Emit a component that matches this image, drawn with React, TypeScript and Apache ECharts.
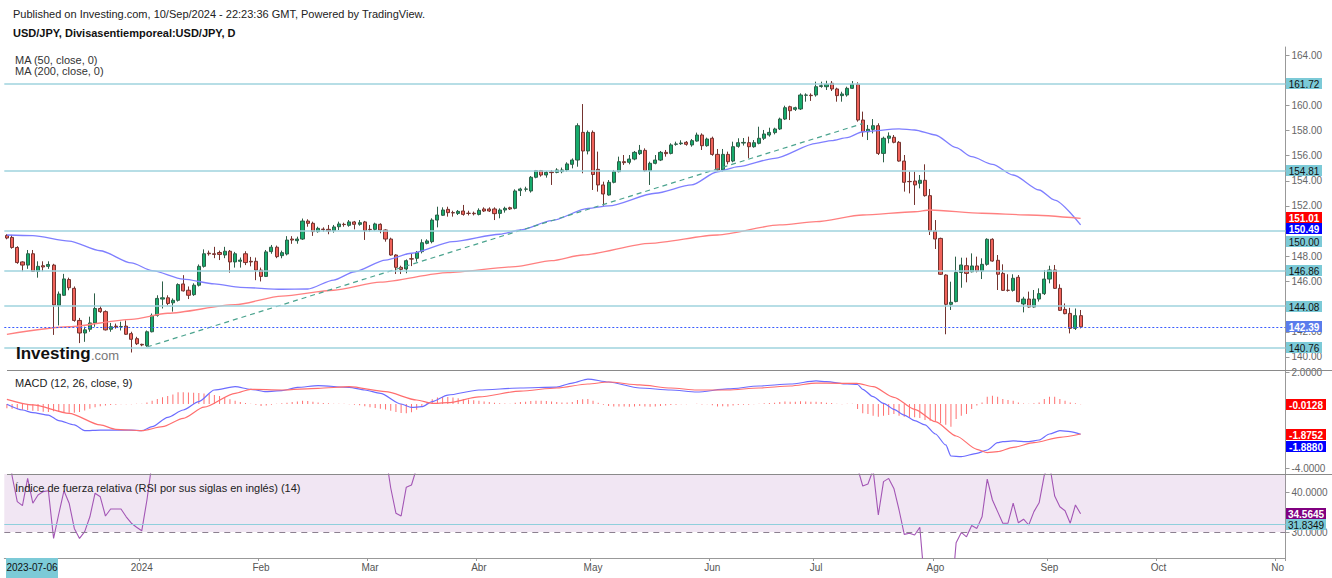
import React, { useEffect, useRef } from "react";
import * as echarts from "echarts";

const FONT = '"Liberation Sans", Arial, sans-serif';

// ---------- axis / category data ----------
const startDate = "2023-11-24";
const slotCount = 247;
const monthLabels = ["2024", "Feb", "Mar", "Abr", "May", "Jun", "Jul", "Ago", "Sep", "Oct", "No"];
const cursorDateLabel = "2023-07-06";
const priceTicks = [140, 142, 144, 146, 148, 150, 152, 154, 156, 158, 160, 162, 164];
const priceTickLabels = [140, 142, 146, 148, 152, 154, 156, 158, 160, 164];
const macdTicks = [2, -4];
const rsiTicks = [40, 30];

// ---------- price data [open, close, low, high] ----------
const ohlc: number[][] = [
  [149.65, 149.45, 149.35, 149.75], [149.5, 148.7, 148.6, 149.7], [148.7, 147.5, 147.4, 148.8], [147.55, 147.3, 146.8, 147.6], [147.3, 148.2, 147.0, 148.5],
  [148.2, 146.8, 146.75, 148.5], [146.8, 147.2, 146.3, 147.6], [147.25, 147.15, 146.8, 147.6], [147.2, 147.35, 147.0, 147.6], [147.3, 144.13, 141.75, 147.4],
  [144.1, 145.0, 142.5, 145.2], [144.9, 146.2, 144.85, 146.6], [146.15, 145.5, 145.3, 146.3], [145.45, 142.9, 142.8, 145.6], [142.9, 141.9, 141.1, 143.1],
  [141.9, 142.15, 141.2, 142.4], [142.2, 142.7, 142.0, 143.2], [142.7, 143.85, 142.4, 145.05], [143.85, 143.6, 143.5, 144.05], [143.6, 142.15, 142.1, 143.7],
  [142.2, 142.4, 142.0, 142.7], [142.45, 142.4, 142.25, 142.65], [142.4, 142.42, 142.1, 142.8], [142.45, 141.8, 141.75, 142.9], [141.85, 141.4, 140.35, 142.0],
  [141.45, 141.05, 140.95, 141.6], [141.0, 140.95, 140.85, 141.05], [140.9, 142.0, 140.8, 142.1], [142.0, 143.3, 141.95, 143.45], [143.3, 144.65, 143.2, 144.9],
  [144.6, 144.7, 143.85, 146.0], [144.7, 144.25, 144.1, 144.9], [144.3, 144.5, 143.6, 144.65], [144.5, 145.75, 144.4, 145.85], [145.8, 145.25, 145.2, 146.5],
  [145.3, 144.9, 144.6, 145.6], [144.95, 145.7, 144.85, 145.85], [145.7, 147.2, 145.6, 147.35], [147.2, 148.2, 147.1, 148.55], [148.25, 148.2, 148.05, 148.45],
  [148.2, 148.15, 147.85, 148.75], [148.3, 148.15, 147.7, 148.45], [148.1, 148.4, 147.85, 148.75], [148.4, 147.55, 146.7, 148.5], [147.55, 148.2, 147.1, 148.35],
  [147.6, 147.7, 147.1, 147.9], [148.2, 147.5, 147.3, 148.4], [147.6, 147.55, 147.2, 147.95], [147.6, 146.9, 146.1, 147.9], [146.9, 146.4, 146.0, 147.1],
  [146.4, 148.35, 146.35, 148.5], [148.37, 148.72, 148.2, 148.9], [148.72, 147.97, 147.85, 148.85], [148.05, 148.29, 147.84, 148.45], [148.18, 149.29, 148.07, 149.6],
  [149.37, 149.29, 148.99, 149.6], [149.24, 149.37, 149.0, 149.56], [149.37, 150.8, 149.3, 151.0], [150.8, 150.62, 150.35, 150.94], [150.62, 149.96, 149.62, 150.75],
  [149.96, 150.22, 149.88, 150.35], [150.16, 150.12, 149.96, 150.3], [150.14, 150.01, 149.75, 150.49], [150.04, 150.33, 149.88, 150.49], [150.35, 150.57, 150.09, 150.75],
  [150.54, 150.52, 150.35, 150.67], [150.46, 150.73, 150.35, 150.88], [150.73, 150.54, 150.14, 150.81], [150.54, 150.67, 150.43, 150.88], [150.73, 150.04, 149.3, 150.81],
  [150.14, 150.12, 149.96, 150.49], [150.14, 150.57, 150.04, 150.67], [150.54, 150.09, 149.83, 150.62], [150.09, 149.37, 149.16, 150.14], [149.37, 148.1, 148.05, 149.48],
  [148.1, 147.12, 146.59, 148.16], [147.12, 146.96, 146.59, 147.25], [146.99, 147.65, 146.65, 147.75], [147.8, 147.78, 147.22, 148.23], [147.84, 148.31, 147.57, 148.42],
  [148.37, 149.08, 148.23, 149.35], [149.03, 149.22, 148.95, 149.35], [149.16, 150.88, 149.03, 151.02], [150.88, 151.28, 150.3, 151.94], [151.26, 151.68, 151.2, 151.89],
  [151.73, 151.47, 151.15, 151.94], [151.47, 151.45, 151.15, 151.62], [151.41, 151.57, 151.28, 151.68], [151.6, 151.33, 151.23, 152.08], [151.42, 151.41, 151.25, 151.62],
  [151.42, 151.38, 151.25, 151.55], [151.33, 151.65, 151.25, 151.81], [151.76, 151.6, 151.52, 151.89], [151.76, 151.6, 151.52, 151.89], [151.76, 151.39, 150.88, 151.89],
  [151.41, 151.68, 151.02, 151.81], [151.68, 151.81, 151.47, 151.94], [151.86, 151.76, 151.68, 151.94], [151.81, 153.19, 151.73, 153.32], [153.22, 153.35, 152.79, 153.45],
  [153.33, 153.35, 153.14, 153.53], [153.19, 154.28, 153.06, 154.38], [154.28, 154.81, 154.2, 154.86], [154.81, 154.46, 154.33, 154.86], [154.46, 154.67, 154.25, 154.78],
  [154.7, 154.65, 153.67, 154.85], [154.67, 154.86, 154.6, 155.0], [154.73, 154.86, 154.6, 155.05], [154.86, 155.34, 154.73, 155.47], [155.31, 155.65, 154.99, 155.78],
  [155.65, 158.38, 155.12, 158.57], [157.85, 156.37, 154.6, 160.1], [156.37, 157.85, 156.1, 158.0], [157.85, 154.5, 153.27, 158.0], [154.91, 153.67, 153.14, 156.32],
  [153.67, 152.95, 152.02, 153.93], [152.87, 153.88, 152.82, 154.06], [153.88, 154.73, 153.8, 154.86], [154.73, 155.52, 154.67, 155.92], [155.52, 155.44, 155.26, 156.05],
  [155.47, 155.73, 155.31, 156.05], [155.73, 156.26, 155.63, 156.37], [156.16, 156.42, 156.05, 156.85], [156.42, 154.81, 154.73, 156.58], [154.81, 155.39, 153.67, 155.52],
  [155.39, 155.65, 155.31, 156.05], [155.65, 156.26, 155.57, 156.37], [156.26, 156.16, 155.92, 156.45], [156.18, 156.85, 156.1, 156.98], [156.9, 156.93, 156.79, 157.11],
  [156.95, 157.0, 156.85, 157.22], [157.06, 156.9, 156.79, 157.16], [156.85, 157.19, 156.71, 157.32], [157.16, 157.64, 157.11, 157.83], [157.64, 156.79, 156.45, 157.77],
  [156.79, 157.32, 156.71, 157.43], [157.38, 156.1, 155.99, 157.51], [156.1, 154.86, 154.73, 156.53], [154.86, 156.1, 154.73, 156.53], [156.1, 155.52, 155.31, 156.32],
  [155.57, 156.71, 155.47, 157.11], [156.74, 157.03, 156.63, 157.38], [157.0, 157.05, 156.8, 157.4], [157.03, 156.71, 155.79, 157.51], [156.71, 157.03, 156.63, 157.24],
  [156.98, 157.38, 156.9, 158.3], [157.38, 157.72, 157.24, 158.04], [157.64, 157.85, 157.51, 158.22], [157.83, 158.12, 157.69, 158.22], [158.12, 158.91, 158.04, 159.02],
  [158.91, 159.81, 158.83, 159.97], [159.89, 159.57, 158.83, 159.97], [159.68, 159.81, 159.55, 159.89], [159.71, 160.82, 159.63, 160.95], [160.8, 160.82, 160.29, 160.95],
  [160.8, 160.77, 160.35, 160.95], [160.82, 161.48, 160.69, 161.88], [161.5, 161.56, 161.4, 161.88], [161.48, 161.67, 161.22, 161.95], [161.75, 161.3, 161.14, 161.93],
  [161.3, 160.77, 160.29, 161.4], [160.77, 160.9, 160.29, 161.08], [160.82, 161.35, 160.69, 161.48], [161.35, 161.67, 161.3, 161.93], [161.67, 158.83, 158.7, 161.83],
  [158.83, 157.9, 157.5, 159.5], [157.9, 158.09, 157.24, 158.44], [158.09, 158.38, 157.77, 158.91], [158.38, 156.18, 156.05, 158.57], [156.18, 157.38, 155.47, 157.51],
  [157.38, 157.56, 156.98, 157.85], [157.46, 157.06, 156.98, 157.64], [157.06, 155.57, 155.52, 157.16], [155.57, 153.88, 153.14, 156.05], [153.95, 153.93, 153.0, 154.73],
  [153.98, 153.67, 152.08, 154.73], [153.8, 154.04, 153.4, 154.46], [154.04, 152.82, 152.74, 155.31], [152.82, 150.01, 149.69, 153.35], [150.01, 149.37, 148.58, 150.88],
  [149.42, 146.57, 146.51, 149.48], [146.51, 144.18, 141.8, 146.57], [144.18, 144.34, 143.73, 145.98], [144.4, 146.72, 144.34, 147.97], [146.72, 147.31, 145.5, 147.89],
  [147.25, 146.64, 145.93, 147.89], [146.77, 147.23, 146.72, 148.23], [147.23, 146.83, 146.72, 147.97], [146.83, 147.36, 146.19, 147.84], [147.36, 149.35, 147.25, 149.43],
  [149.35, 147.62, 147.57, 149.43], [147.68, 146.57, 145.32, 148.1], [146.64, 145.29, 145.24, 147.36], [145.3, 145.29, 145.19, 146.57], [145.29, 146.25, 145.19, 146.57],
  [146.33, 144.4, 144.34, 146.51], [144.21, 144.6, 143.54, 144.78], [144.6, 143.97, 143.92, 145.19], [143.97, 144.6, 143.92, 145.32], [144.6, 145.03, 144.4, 145.45],
  [145.03, 146.19, 144.92, 146.91], [146.19, 146.91, 145.85, 147.25], [146.91, 145.45, 145.4, 147.31], [145.45, 143.7, 143.65, 145.77], [143.78, 143.44, 143.39, 144.25],
  [143.46, 142.27, 141.87, 143.9], [142.27, 143.28, 142.14, 143.85], [143.28, 142.39, 142.27, 143.73],
];

// moving averages, read as [bar index, value]
const ma50: number[][] = [
  [0, 149.69], [5, 149.64], [12, 149.21], [18, 148.44], [24, 147.47], [28, 146.86], [34, 146.19], [40, 145.8], [45, 145.53], [53, 145.38],
  [58, 145.4], [63, 146.11], [67, 146.77], [73, 147.7], [78, 148.24], [86, 149.16], [95, 149.75], [99, 150.09], [105, 150.83], [112, 151.81],
  [116, 152.0], [125, 153.01], [132, 153.67], [137, 154.72], [141, 155.12], [148, 155.79], [156, 156.98], [159, 157.19], [162, 157.43], [165, 157.9],
  [172, 158.12], [175, 158.04], [179, 157.64], [183, 156.63], [186, 155.92], [190, 155.31], [194, 154.46], [199, 153.27], [202, 152.47], [207, 150.49],
];
const ma200: number[][] = [
  [0, 141.8], [12, 142.4], [24, 142.99], [31, 143.47], [44, 144.15], [53, 144.84], [63, 145.3], [72, 145.95], [85, 146.7], [98, 147.17],
  [105, 147.65], [111, 148.1], [124, 149.03], [137, 149.69], [149, 150.49], [156, 150.75], [165, 151.28], [175, 151.54], [178, 151.68], [188, 151.42],
  [197, 151.28], [207, 151.01],
];
const trendLine: number[][] = [[27, 140.79], [165, 158.55]];
const priceLevels = [161.72, 154.81, 150.0, 146.86, 144.08, 140.76];
const lastClose = 142.39;
const ma50Last = 150.49;
const ma200Last = 151.01;

// ---------- MACD ----------
const macdHist: number[] = [
  -0.27, -0.3, -0.33, -0.36, -0.38, -0.42, -0.44, -0.48, -0.5, -0.46,
  -0.5, -0.52, -0.54, -0.55, -0.5, -0.4, -0.3, -0.2, -0.14, -0.1,
  -0.07, -0.04, -0.02, -0.02, -0.01, 0.01, 0.02, 0.1, 0.2, 0.32,
  0.42, 0.5, 0.6, 0.73, 0.73, 0.72, 0.7, 0.68, 0.66, 0.62,
  0.56, 0.5, 0.42, 0.3, 0.2, 0.12, 0.06, 0.02, -0.05, -0.12,
  -0.1, -0.05, 0.02, 0.04, 0.08, 0.12, 0.16, 0.2, 0.18, 0.14,
  0.1, 0.06, 0.04, 0.02, 0.02, 0.01, -0.02, -0.04, -0.08, -0.14,
  -0.2, -0.25, -0.3, -0.34, -0.42, -0.5, -0.56, -0.58, -0.52, -0.36,
  -0.15, 0.1, 0.3, 0.4, 0.46, 0.44,
  0.4, 0.36, 0.32, 0.28, 0.24, 0.2, 0.16, 0.12, 0.08, 0.05,
  0.03, 0.02, 0.08, 0.12, 0.14, 0.18, 0.2, 0.2, 0.18, 0.15,
  0.12, 0.1, 0.1, 0.12, 0.25, 0.3, 0.32, 0.2, 0.08, -0.05,
  -0.12, -0.15, -0.15, -0.16, -0.17, -0.15, -0.12, -0.16, -0.17, -0.15,
  -0.12, -0.1, -0.06, -0.04, -0.02, -0.02, 0.0, 0.02, -0.03, -0.02,
  -0.08, -0.16, -0.14, -0.15, -0.1, -0.06, -0.04, -0.05, -0.02, 0.02,
  0.05, 0.07, 0.08, 0.12, 0.16, 0.14, 0.14, 0.17, 0.16, 0.14,
  0.14, 0.12,
  0.08, 0.06, 0.02, -0.02, 0.02, 0.01, -0.31, -0.58, -0.625, -0.73,
  -0.79, -0.73, -0.69, -0.625, -0.73, -0.79, -0.83, -0.83, -0.875, -1.0,
  -1.04, -1.08, -1.21, -1.29, -1.42, -0.94, -0.73, -0.625, -0.31, -0.1,
  0.1, 0.46, 0.52, 0.46, 0.31, 0.25, 0.21, 0.1, 0.03, 0.02,
  0.04, 0.1, 0.31, 0.46, 0.46, 0.31, 0.21, 0.1, 0.04, -0.0128,
];
const macdLine: number[][] = [
  [0, -0.02], [3, -0.375], [5, -0.54], [8, -0.69], [10, -1.04], [13, -1.31], [15, -1.67], [18, -1.63], [21, -1.63], [24, -1.63],
  [26, -1.67], [28, -1.42], [31, -0.83], [34, -0.375], [37, 0.15], [40, 0.875], [44, 1.08], [47, 0.92], [50, 0.77], [53, 0.83],
  [56, 1.04], [60, 1.15], [66, 1.04], [69, 0.875], [72, 0.67], [76, 0.0], [78, -0.21], [80, -0.17], [82, 0.15], [85, 0.56],
  [91, 0.875], [99, 1.0], [106, 1.06], [109, 1.31], [112, 1.56], [116, 1.375], [122, 1.0], [128, 0.875], [133, 0.75], [139, 0.94],
  [145, 1.125], [151, 1.25], [156, 1.44], [158, 1.4], [162, 1.25], [164, 1.22], [165, 0.92], [167, 0.46], [169, 0.04], [171, -0.33],
  [173, -0.69], [175, -1.04], [177, -1.31], [179, -1.875], [181, -2.56], [182, -3.25], [184, -3.29], [187, -3.08], [189, -2.875], [191, -2.42],
  [192, -2.35], [194, -2.31], [197, -2.35], [199, -2.25], [201, -1.875], [203, -1.67], [205, -1.73], [207, -1.888],
];
const signalLine: number[][] = [
  [0, 0.29], [5, -0.06], [12, -0.58], [18, -1.31], [21, -1.58], [26, -1.67], [30, -1.42], [34, -0.9], [38, -0.2], [44, 0.67],
  [47, 0.92], [53, 0.875], [60, 0.98], [66, 1.08], [73, 0.77], [79, 0.25], [82, 0.04], [85, 0.08], [91, 0.44], [99, 0.81],
  [106, 1.0], [112, 1.25], [116, 1.375], [122, 1.19], [128, 1.0], [133, 0.875], [139, 0.875], [145, 1.0], [151, 1.125], [156, 1.31],
  [158, 1.3], [164, 1.29], [167, 1.08], [171, 0.42], [175, -0.33], [179, -1.1], [183, -2.0], [187, -2.83], [189, -3.04], [191, -2.98],
  [194, -2.71], [198, -2.42], [203, -2.08], [207, -1.8752],
];
const histLast = -0.0128;
const macdLast = -1.888;
const signalLast = -1.8752;

// ---------- RSI ----------
const rsi: number[] = [
  55, 44, 37.6, 36.6, 43.4, 37.2, 39.25, 40.1, 40.3, 28.4,
  34.5, 40.3, 37.2, 30.9, 28.4, 30.1, 33.8, 39.7, 38.8, 34.0,
  35.75, 35.75, 35.75, 33.8, 32.2, 31.2, 30.3, 38.0,
  47.5, 60, 61, 58, 59, 64, 60, 58, 62, 68,
  71, 70, 70, 69, 70, 63, 66, 66, 62, 62,
  57, 54, 63, 65, 60, 61, 66, 65, 66, 71,
  70, 64, 65, 65, 63, 65, 67, 67, 68, 66,
  67, 60, 60, 63, 58, 49.5, 41, 34.7, 34.0, 41.2,
  41.75, 46, 52, 53, 63, 65, 67, 65,
  64, 65, 62, 62, 62, 64, 62, 62, 60, 62,
  63, 62, 70, 71, 71, 75, 77, 74, 75, 74,
  75, 75, 77, 78, 84, 70, 75, 58, 53, 50,
  54, 57, 60, 60, 61, 63, 63, 55, 57, 58,
  60, 60, 62, 62, 62, 61, 63, 64, 59, 61,
  55, 50, 55, 53, 57, 58, 58, 57, 58, 60,
  61, 62, 63, 66, 70, 68, 69, 73, 73, 72,
  75, 75, 76, 72, 68, 69, 71, 72,
  46, 41.5, 42, 45.5, 34.25, 42.6, 43.4, 40.9, 35.5, 29.4,
  29.7, 29.25, 31.2, 16, 14, 12, 9, 8, 12, 27.3,
  29.9, 28.8, 31.6, 30.9, 33.8, 43.2, 38, 35.1, 32.2, 32.2,
  37.2, 32.3, 33.2, 31.75, 35.1, 37.3, 44.2, 47, 39, 36.3,
  35.3, 32.2, 36.75, 34.56,
];
const rsiLast = 34.5645;
const rsiLevel = 31.8349;
const rsiLower = 30;

// ---------- helpers ----------
function weekdays(start: string, n: number): string[] {
  const out: string[] = [];
  const d = new Date(start + "T00:00:00Z");
  while (out.length < n) {
    const wd = d.getUTCDay();
    if (wd !== 0 && wd !== 6) out.push(d.toISOString().slice(0, 10));
    d.setUTCDate(d.getUTCDate() + 1);
  }
  return out;
}

const categories = weekdays(startDate, slotCount);
const monthLabelAt = new Map<number, string>();
{
  let k = 0;
  for (let i = 1; i < categories.length; i++) {
    if (categories[i].slice(0, 7) !== categories[i - 1].slice(0, 7) && categories[i] >= "2024-01-01") {
      if (k < monthLabels.length) monthLabelAt.set(i, monthLabels[k]);
      k++;
    }
  }
}

const GRID_L = 4.3;
const GRID_R = 46.5;
const CYAN_LINE = "#9fd3de";
const CYAN_TAG = "#7ccad7";

export default function App() {
  const ref = useRef<HTMLDivElement>(null);

  useEffect(() => {
    if (!ref.current) return;
    const chart = echarts.init(ref.current, null, { renderer: "svg" });

    const labelInterval = (index: number) => monthLabelAt.has(index);
    const xAxes = [0, 1, 2].map((g) => ({
      type: "category",
      gridIndex: g,
      data: categories,
      boundaryGap: true,
      axisLine: { show: g === 2, lineStyle: { color: "#999", width: 1 } },
      axisTick: { show: g === 2, interval: labelInterval, length: 3, lineStyle: { color: "#999" } },
      axisLabel: {
        show: g === 2,
        interval: labelInterval,
        formatter: (_v: string, idx: number) => monthLabelAt.get(idx) ?? "",
        color: "#555",
        fontSize: 10,
        margin: 4,
        fontFamily: FONT,
      },
      splitLine: { show: false },
    }));

    const yBase = (g: number, min: number, max: number, ticks: number[], labels: number[], digits: number) => ({
      type: "value",
      gridIndex: g,
      position: "right",
      min,
      max,
      axisLine: { show: true, lineStyle: { color: "#999", width: 1 } },
      axisTick: { show: true, customValues: ticks, length: 4, lineStyle: { color: "#999" } },
      axisLabel: {
        customValues: labels,
        formatter: (v: number) => v.toFixed(digits),
        color: "#666",
        fontSize: 10,
        margin: 6,
        fontFamily: FONT,
      },
      splitLine: { show: false },
    });

    const option: any = {
      animation: false,
      backgroundColor: "#ffffff",
      textStyle: { fontFamily: FONT },
      grid: [
        { left: GRID_L, right: GRID_R, top: 47, height: 323 },
        { left: GRID_L, right: GRID_R, top: 370, height: 104 },
        { left: GRID_L, right: GRID_R, top: 474, height: 84 },
      ],
      xAxis: xAxes,
      yAxis: [
        yBase(0, 138.96, 164.636, priceTicks, priceTickLabels, 2),
        yBase(1, -4.375, 2.125, macdTicks, macdTicks, 4),
        yBase(2, 23.5, 44.5, rsiTicks, rsiTicks, 4),
      ],
      series: [
        {
          type: "line",
          name: "levels",
          xAxisIndex: 0,
          yAxisIndex: 0,
          data: ohlc.map(() => null),
          symbol: "none",
          silent: true,
          z: 1,
          markLine: {
            silent: true,
            symbol: ["none", "none"],
            label: { show: false },
            data: [
              ...priceLevels.map((v) => ({ yAxis: v, lineStyle: { color: CYAN_LINE, width: 1.6, type: "solid" } })),
              { yAxis: lastClose, lineStyle: { color: "#3a5cff", width: 1.2, type: [2, 2] } },
            ],
          },
        },
        {
          type: "candlestick",
          name: "USD/JPY",
          xAxisIndex: 0,
          yAxisIndex: 0,
          data: ohlc,
          barWidth: "70%",
          z: 3,
          itemStyle: {
            color: "#16ab6c",
            color0: "#f0625a",
            borderColor: "#2d5f48",
            borderColor0: "#74332f",
            borderWidth: 1,
          },
        },
        {
          type: "line",
          name: "MA50",
          xAxisIndex: 0,
          yAxisIndex: 0,
          data: ma50,
          symbol: "none",
          smooth: 0.25,
          smoothMonotone: "x",
          z: 4,
          lineStyle: { color: "#7f7fff", width: 1.3 },
        },
        {
          type: "line",
          name: "MA200",
          xAxisIndex: 0,
          yAxisIndex: 0,
          data: ma200,
          symbol: "none",
          smooth: 0.25,
          smoothMonotone: "x",
          z: 4,
          lineStyle: { color: "#ff8080", width: 1.3 },
        },
        {
          type: "line",
          name: "trend",
          xAxisIndex: 0,
          yAxisIndex: 0,
          data: trendLine,
          symbol: "none",
          z: 4,
          lineStyle: { color: "#4aa38e", width: 1.2, type: [5, 4] },
        },
        {
          type: "bar",
          name: "hist",
          xAxisIndex: 1,
          yAxisIndex: 1,
          data: macdHist,
          barWidth: 1,
          itemStyle: { color: "#ff7070" },
        },
        {
          type: "line",
          name: "MACD",
          xAxisIndex: 1,
          yAxisIndex: 1,
          data: macdLine,
          symbol: "none",
          smooth: 0.25,
          smoothMonotone: "x",
          lineStyle: { color: "#6c6cff", width: 1.2 },
        },
        {
          type: "line",
          name: "Signal",
          xAxisIndex: 1,
          yAxisIndex: 1,
          data: signalLine,
          symbol: "none",
          smooth: 0.25,
          smoothMonotone: "x",
          lineStyle: { color: "#ff6e6e", width: 1.2 },
        },
        {
          type: "line",
          name: "RSI",
          xAxisIndex: 2,
          yAxisIndex: 2,
          data: rsi,
          symbol: "none",
          lineStyle: { color: "#a356b5", width: 1.1 },
          markArea: {
            silent: true,
            label: { show: false },
            itemStyle: { color: "rgba(150, 60, 160, 0.13)" },
            data: [[{ yAxis: rsiLower }, { yAxis: 44.5 }]],
          },
          markLine: {
            silent: true,
            symbol: ["none", "none"],
            label: { show: false },
            data: [
              { yAxis: rsiLevel, lineStyle: { color: "#8fcfdc", width: 1.2, type: "solid" } },
              { yAxis: rsiLower, lineStyle: { color: "#8c8090", width: 1, type: [6, 5] } },
            ],
          },
        },
      ],
    };

    chart.setOption(option);

    const py = (axis: number, v: number) => chart.convertToPixel({ yAxisIndex: axis } as any, v) as number;
    const TAG_H = 11;
    const tag = (axis: number, v: number, text: string, bg: string, fg: string, w: number, dy = 0) => ({
      type: "group",
      x: 1286,
      y: Math.round(py(axis, v) + dy - TAG_H / 2),
      z: 60,
      children: [
        { type: "rect", z: 60, shape: { x: 0, y: 0, width: w, height: TAG_H }, style: { fill: bg } },
        {
          type: "text",
          z: 61,
          x: w / 2,
          y: TAG_H / 2 + 0.5,
          style: {
            text,
            fill: fg,
            fontSize: 10,
            fontFamily: FONT,
            fontWeight: fg === "#ffffff" ? "bold" : "normal",
            textAlign: "center",
            textVerticalAlign: "middle",
          },
        },
      ],
    });

    const txt = (x: number, y: number, text: string, size: number, color: string, weight = "normal") => ({
      type: "text",
      x,
      y,
      z: 60,
      style: { text, fill: color, fontSize: size, fontFamily: FONT, fontWeight: weight, textVerticalAlign: "middle" },
    });

    const hline = (y: number, x1: number, x2: number) => ({
      type: "line",
      z: 55,
      shape: { x1, y1: y, x2, y2: y },
      style: { stroke: "#8a8a8a", lineWidth: 1 },
    });

    const graphics: any[] = [
      txt(13, 14, "Published on Investing.com, 10/Sep/2024 - 22:23:36 GMT, Powered by TradingView.", 11, "#222"),
      txt(13, 33, "USD/JPY, Divisasentiemporeal:USD/JPY, D", 11, "#111", "bold"),
      txt(15, 60, "MA (50, close, 0)", 11, "#333"),
      txt(15, 71, "MA (200, close, 0)", 11, "#333"),
      txt(15, 383, "MACD (12, 26, close, 9)", 11, "#222"),
      txt(15, 488, "Índice de fuerza relativa (RSI por sus siglas en inglés) (14)", 11, "#222"),
      txt(16, 353, "Investing", 17, "#111", "bold"),
      txt(91, 355, ".com", 13, "#777"),
      hline(370.5, 7, 1332),
      hline(474.5, 7, 1332),
      tag(0, priceLevels[0], priceLevels[0].toFixed(2), CYAN_TAG, "#111", 36),
      tag(0, priceLevels[1], priceLevels[1].toFixed(2), CYAN_TAG, "#111", 36),
      tag(0, ma200Last, ma200Last.toFixed(2), "#ff0000", "#ffffff", 36, -0.5),
      tag(0, ma50Last, ma50Last.toFixed(2), "#0000ff", "#ffffff", 36, 3.5),
      tag(0, priceLevels[2], priceLevels[2].toFixed(2), CYAN_TAG, "#111", 36, 10),
      tag(0, priceLevels[3], priceLevels[3].toFixed(2), CYAN_TAG, "#111", 36),
      tag(0, priceLevels[4], priceLevels[4].toFixed(2), CYAN_TAG, "#111", 36, 1),
      tag(0, lastClose, lastClose.toFixed(2), "#5a7cec", "#ffffff", 36),
      tag(0, priceLevels[5], priceLevels[5].toFixed(2), CYAN_TAG, "#111", 36),
      tag(1, histLast, histLast.toFixed(4), "#ff0000", "#ffffff", 40),
      tag(1, signalLast, signalLast.toFixed(4), "#ff0000", "#ffffff", 40),
      tag(1, macdLast, macdLast.toFixed(4), "#0000ff", "#ffffff", 40, 12),
      tag(2, rsiLast, rsiLast.toFixed(4), "#800080", "#ffffff", 40),
      tag(2, rsiLevel, rsiLevel.toFixed(4), CYAN_TAG, "#111", 40),
      {
        type: "group",
        x: 6,
        y: 558,
        z: 60,
        children: [
          { type: "rect", z: 60, shape: { x: 0, y: 0, width: 52, height: 20 }, style: { fill: CYAN_TAG } },
          {
            type: "text",
            z: 61,
            x: 26,
            y: 9,
            style: { text: cursorDateLabel, fill: "#111", fontSize: 10, fontFamily: FONT, textAlign: "center", textVerticalAlign: "middle" },
          },
        ],
      },
    ];

    chart.setOption({ graphic: graphics });

    return () => chart.dispose();
  }, []);

  return (
    <div
      ref={ref}
      style={{ position: "fixed", left: 0, top: 0, width: 1332, height: 578, background: "#fff" }}
    />
  );
}
